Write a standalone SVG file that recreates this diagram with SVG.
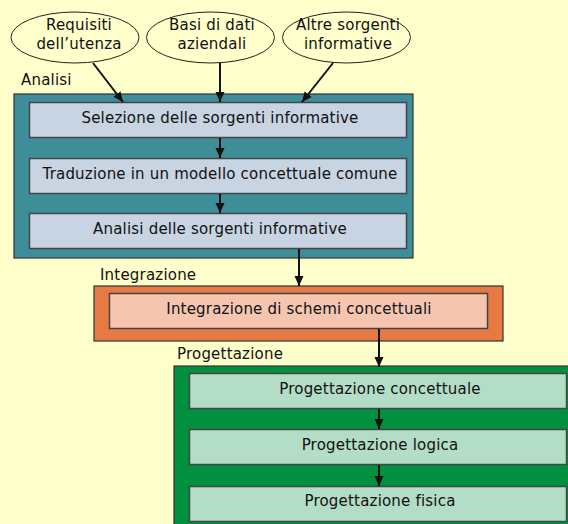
<svg xmlns="http://www.w3.org/2000/svg" width="568" height="524" viewBox="0 0 568 524">
<style>
text{font-family:"DejaVu Sans","Noto Sans",sans-serif;font-size:15px;letter-spacing:0.2px;fill:#111;}
.c{text-anchor:middle;}
.ell{fill:#FFFFCC;stroke:#222;stroke-width:1;}
.outer{stroke:#333;stroke-width:1.2;}
.inner{stroke:#444;stroke-width:1.5;}
.con{stroke:#111;stroke-width:2;fill:none;marker-end:url(#ah);}
</style>
<defs>
<marker id="ah" markerUnits="userSpaceOnUse" markerWidth="10" markerHeight="10" viewBox="0 0 10 10" refX="10" refY="5" orient="auto">
<path d="M0,0.5 L10,5 L0,9.5 Z" fill="#111"/>
</marker>
</defs>
<rect x="0" y="0" width="568" height="524" fill="#FFFFCC"/>
<g id="src1"><ellipse class="ell" cx="75" cy="37.5" rx="64" ry="25.5"/><text class="c" x="79" y="30">Requisiti</text><text class="c" x="79" y="49">dell’utenza</text></g>
<g id="src2"><ellipse class="ell" cx="210.5" cy="37.5" rx="64" ry="25.5"/><text class="c" x="212" y="30">Basi di dati</text><text class="c" x="212" y="49">aziendali</text></g>
<g id="src3"><ellipse class="ell" cx="346.5" cy="37.5" rx="64" ry="25.5"/><text class="c" x="348" y="30">Altre sorgenti</text><text class="c" x="348" y="49">informative</text></g>
<g id="analisi">
<text x="21" y="85">Analisi</text>
<rect class="outer" x="14" y="94" width="399" height="164" fill="#3E8E9A"/>
</g>
<g id="selezione"><rect class="inner" x="29.5" y="102.5" width="377" height="35" fill="#C8D4E2"/><text class="c" x="220" y="123">Selezione delle sorgenti informative</text></g>
<g id="traduzione"><rect class="inner" x="29.5" y="158.5" width="377" height="35" fill="#C8D4E2"/><text class="c" x="220" y="179">Traduzione in un modello concettuale comune</text></g>
<g id="analisi-sorgenti"><rect class="inner" x="29.5" y="213.5" width="377" height="35" fill="#C8D4E2"/><text class="c" x="220" y="234">Analisi delle sorgenti informative</text></g>
<g id="integrazione">
<text x="100" y="280">Integrazione</text>
<rect class="outer" x="94" y="286" width="409" height="55" fill="#E77A43"/>
</g>
<g id="integrazione-schemi"><rect class="inner" x="109.5" y="293.5" width="378" height="35" fill="#F5C5B0"/><text class="c" x="299" y="314">Integrazione di schemi concettuali</text></g>
<g id="progettazione">
<text x="177" y="359">Progettazione</text>
<rect class="outer" x="174" y="366" width="400" height="170" fill="#00903F"/>
</g>
<g id="prog-concettuale"><rect class="inner" x="189.5" y="373.5" width="377" height="35" fill="#B3DDC7"/><text class="c" x="380" y="394">Progettazione concettuale</text></g>
<g id="prog-logica"><rect class="inner" x="189.5" y="429.5" width="377" height="35" fill="#B3DDC7"/><text class="c" x="380" y="450">Progettazione logica</text></g>
<g id="prog-fisica"><rect class="inner" x="189.5" y="486.5" width="377" height="35" fill="#B3DDC7"/><text class="c" x="380" y="506">Progettazione fisica</text></g>
<g id="connectors">
<line class="con" x1="93" y1="63" x2="123" y2="102"/>
<line class="con" x1="220" y1="63" x2="220" y2="102"/>
<line class="con" x1="333" y1="63" x2="302" y2="102"/>
<line class="con" x1="220" y1="138" x2="220" y2="158"/>
<line class="con" x1="220" y1="194" x2="220" y2="213"/>
<line class="con" x1="299" y1="249" x2="299" y2="286"/>
<line class="con" x1="379" y1="329" x2="379" y2="367"/>
<line class="con" x1="379" y1="409" x2="379" y2="429"/>
<line class="con" x1="379" y1="465" x2="379" y2="486"/>
</g>
</svg>
